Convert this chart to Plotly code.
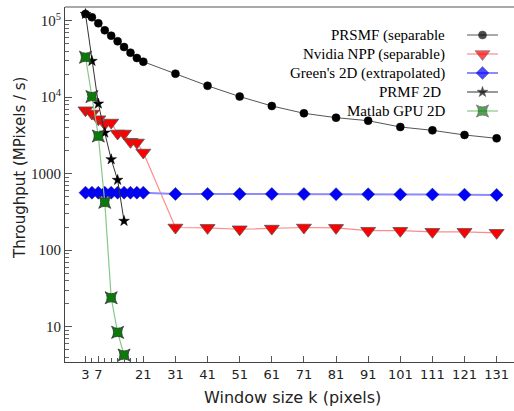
import plotly.graph_objects as go

# ---------------- data ----------------
k_all = [3, 5, 7, 9, 11, 13, 15, 17, 19, 21,
         31, 41, 51, 61, 71, 81, 91, 101, 111, 121, 131]
prsmf = [122400, 110800, 92500, 74900, 63700, 53800, 45300, 38200, 32500, 29100,
         20300, 14100, 10200, 7680, 6160, 5400, 4930, 4080, 3690, 3210, 2900]
npp = [6760, 6120, 5160, 4490, 4670, 3355, 3355, 2610, 2560, 1893,
       198, 196, 188, 192, 198, 196, 180, 180, 174, 174, 169]
greens = [565, 565, 565, 565, 565, 565, 565, 565, 565, 565,
          545, 545, 543, 543, 542, 540, 538, 536, 534, 532, 528]
k_2d = [3, 5, 7, 9, 11, 13, 15]
prmf2d = [122000, 29700, 8220, 3430, 1540, 828, 241]
matlab = [33300, 10200, 3110, 423, 23.9, 8.45, 4.27]

series_names = ["PRSMF (separable", "Nvidia NPP (separable)",
                "Green's 2D (extrapolated)", "PRMF 2D ", "Matlab GPU 2D"]

x_labels_pos = [3, 7, 21, 31, 41, 51, 61, 71, 81, 91, 101, 111, 121, 131]
x_small_ticks = [5, 9, 11, 13, 15, 17, 19]
y_tickvals = [10, 100, 1000, 10000, 100000]
y_ticktext = ["10", "100", "1000", "10<sup>4</sup>", "10<sup>5</sup>"]

# ---------------- styles ----------------
styles = [
    dict(line=dict(color="#555555", width=1),
         marker=dict(symbol="circle", size=8, color="black", line=dict(color="black", width=0.5))),
    dict(line=dict(color="#ff8a8a", width=1.2),
         marker=dict(symbol="triangle-down", size=13, color="#ff0000", line=dict(color="#555555", width=0.8))),
    dict(line=dict(color="#8c8cff", width=2),
         marker=dict(symbol="diamond", size=10, color="#0000ff", line=dict(color="#222266", width=0.5))),
    dict(line=dict(color="#333333", width=1),
         marker=dict(symbol="star", size=8, color="black", line=dict(color="black", width=0.5))),
    dict(line=dict(color="#86c886", width=1.2),
         marker=dict(symbol="star-square", size=11, color="#0a7a0a", line=dict(color="#333333", width=0.8))),
]

fig = go.Figure()
data_x = [k_all, k_all, k_all, k_2d, k_2d]
data_y = [prsmf, npp, greens, prmf2d, matlab]
for name, xs, ys, st in zip(series_names, data_x, data_y, styles):
    fig.add_trace(go.Scatter(x=xs, y=ys, mode="lines+markers", name=name,
                             line=st["line"], marker=st["marker"], showlegend=False))

# ---------------- manual legend (text left of sample) ----------------
legend_rows = [35, 54, 73, 92, 111]
for name, row, st in zip(series_names, legend_rows, styles):
    m = dict(st["marker"])
    m["size"] = [0, st["marker"]["size"], 0]
    fig.add_trace(go.Scatter(x=[467, 482.5, 498], y=[row, row, row], mode="lines+markers",
                             line=st["line"], marker=m, showlegend=False,
                             xaxis="x2", yaxis="y2", hoverinfo="skip"))
    fig.add_annotation(x=447, y=row, xref="x2", yref="y2", text=name, showarrow=False,
                       xanchor="right", yanchor="middle",
                       font=dict(family="Liberation Serif", size=15, color="black"))

# ---------------- axes ----------------
fig.update_layout(
    width=514, height=411,
    margin=dict(l=65, r=0, t=7, b=49),
    plot_bgcolor="white", paper_bgcolor="white",
    xaxis=dict(range=[-3.38, 136.4], tickmode="array",
               tickvals=x_labels_pos, ticktext=[str(v) for v in x_labels_pos],
               ticks="inside", ticklen=6, tickcolor="#555555", tickwidth=1,
               showline=True, linecolor="#444444", linewidth=1, showgrid=False, zeroline=False,
               tickfont=dict(family="DejaVu Sans", size=13, color="#222222"),
               minor=dict(tickmode="array", tickvals=x_small_ticks, ticks="inside",
                          ticklen=4, tickcolor="#555555", showgrid=False)),
    yaxis=dict(type="log", range=[0.539, 5.179], tickmode="array",
               tickvals=y_tickvals, ticktext=y_ticktext,
               ticks="inside", ticklen=7, tickcolor="#555555", tickwidth=1,
               showline=True, linecolor="#444444", linewidth=1, showgrid=False, zeroline=False,
               tickfont=dict(family="Liberation Serif", size=15, color="#222222"),
               minor=dict(tickmode="array",
                          tickvals=[m * 10 ** e for e in range(0, 6) for m in range(2, 10)],
                          ticks="inside", ticklen=4, tickcolor="#666666", showgrid=False)),
    xaxis2=dict(overlaying="x", range=[65, 514], visible=False),
    yaxis2=dict(overlaying="y", range=[362, 7], visible=False),
    showlegend=False,
)

fig.add_shape(type="line", xref="paper", yref="paper", x0=0, x1=1, y0=1, y1=1,
              line=dict(color="#555555", width=1))

fig.add_annotation(text="Throughput (MPixels / s)", textangle=-90, showarrow=False,
                   xref="paper", yref="paper", x=(20 - 65) / 449, y=(362 - 168) / 355,
                   xanchor="center", yanchor="middle",
                   font=dict(family="DejaVu Sans", size=15, color="#222222"))
fig.add_annotation(text="Window size k (pixels)", showarrow=False,
                   xref="paper", yref="paper", x=(292.5 - 65) / 449, y=(362 - 397) / 355,
                   xanchor="center", yanchor="middle",
                   font=dict(family="DejaVu Sans", size=16, color="#222222"))

fig.write_html("out.html", config={"displayModeBar": False},
               post_script="document.body.style.margin='0px';")
